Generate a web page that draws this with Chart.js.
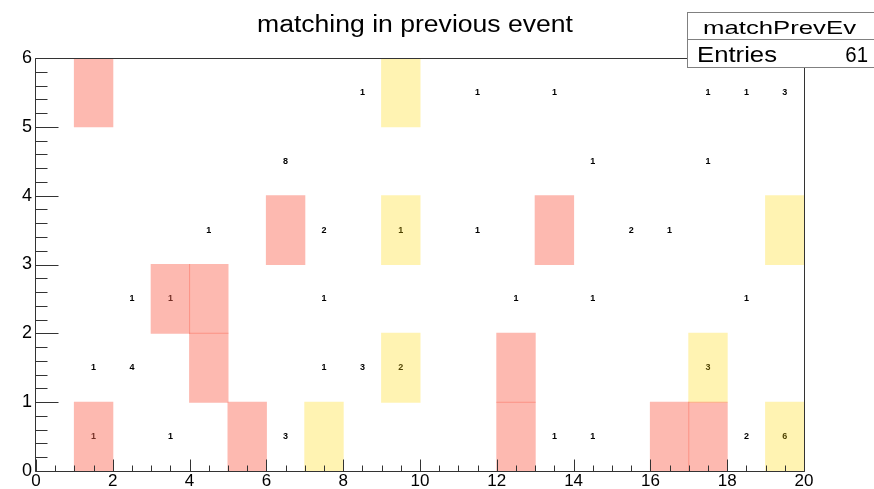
<!DOCTYPE html>
<html>
<head>
<meta charset="utf-8">
<script src="https://cdn.jsdelivr.net/npm/chart.js@4.4.1/dist/chart.umd.min.js"></script>
<style>
  html, body { margin: 0; padding: 0; background: #fff; overflow: hidden; }
  #wrap { position: relative; width: 874px; height: 489px; }
</style>
</head>
<body>
<div id="wrap"><canvas id="c" width="874" height="489"></canvas></div>
<script>
// 2D histogram "matchPrevEv": 20 x bins (0..20), 6 y bins (0..6)
const histName = 'matchPrevEv';
const histTitle = 'matching in previous event';

const xTicks = [0, 2, 4, 6, 8, 10, 12, 14, 16, 18, 20];
const yTicks = [0, 1, 2, 3, 4, 5, 6];

// entries per cell, one array per y bin, index = x bin
const countsY0 = [0, 1, 0, 1, 0, 0, 3, 0, 0, 0, 0, 0, 0, 1, 1, 0, 0, 0, 2, 6];
const countsY1 = [0, 1, 4, 0, 0, 0, 0, 1, 3, 2, 0, 0, 0, 0, 0, 0, 0, 3, 0, 0];
const countsY2 = [0, 0, 1, 1, 0, 0, 0, 1, 0, 0, 0, 0, 1, 0, 1, 0, 0, 0, 1, 0];
const countsY3 = [0, 0, 0, 0, 1, 0, 0, 2, 0, 1, 0, 1, 0, 0, 0, 2, 1, 0, 0, 0];
const countsY4 = [0, 0, 0, 0, 0, 0, 8, 0, 0, 0, 0, 0, 0, 0, 1, 0, 0, 1, 0, 0];
const countsY5 = [0, 0, 0, 0, 0, 0, 0, 0, 1, 0, 0, 1, 0, 1, 0, 0, 0, 1, 1, 3];

// highlighted cells (lower bin edges)
const redCellX = [1, 1, 3, 4, 4, 5, 6, 12, 12, 13, 16, 17];
const redCellY = [5, 0, 2, 2, 1, 0, 3, 0, 1, 3, 0, 0];
const yellowCellX = [7, 9, 9, 9, 17, 19, 19];
const yellowCellY = [0, 5, 3, 1, 1, 3, 0];

const countRows = [countsY0, countsY1, countsY2, countsY3, countsY4, countsY5];
const entries = countRows.reduce((s, row) => s + row.reduce((a, b) => a + b, 0), 0);

const cellBars = (xs, ys) => xs.map((x, i) => ({ x: x + 0.5, y: [ys[i], ys[i] + 1] }));

const FONT = "'Liberation Sans', Arial, Helvetica, sans-serif";

function stretchText(ctx, text, x, y, size, width, align) {
  ctx.save();
  ctx.font = size + 'px ' + FONT;
  const w = ctx.measureText(text).width;
  ctx.translate(x, y);
  ctx.scale(width / w, 1);
  ctx.textAlign = align;
  ctx.textBaseline = 'alphabetic';
  ctx.fillStyle = '#000';
  ctx.fillText(text, 0, 0);
  ctx.restore();
}

// bin contents written at cell centres, underneath the coloured boxes
const cellText = {
  id: 'cellText',
  beforeDatasetsDraw(chart) {
    const { ctx, scales: { x, y } } = chart;
    ctx.save();
    ctx.font = 'bold 9px ' + FONT;
    ctx.fillStyle = '#000';
    ctx.textAlign = 'center';
    ctx.textBaseline = 'middle';
    countRows.forEach((row, iy) => {
      row.forEach((n, ix) => {
        if (n > 0) ctx.fillText(String(n), x.getPixelForValue(ix + 0.5), y.getPixelForValue(iy + 0.5));
      });
    });
    ctx.restore();
  }
};

// frame and inward tick marks
const frameTicks = {
  id: 'frameTicks',
  afterDatasetsDraw(chart) {
    const { ctx, chartArea: a, scales: { x, y } } = chart;
    ctx.save();
    ctx.strokeStyle = '#333';
    ctx.lineWidth = 1;
    const L = Math.round(a.left) - 0.5, R = Math.round(a.right) + 0.5;
    const T = Math.round(a.top) + 0.5, B = Math.round(a.bottom) + 0.5;
    ctx.beginPath();
    ctx.moveTo(L, T); ctx.lineTo(R, T); ctx.lineTo(R, B); ctx.lineTo(L, B); ctx.closePath();
    ctx.stroke();
    ctx.beginPath();
    for (let v = 0; v <= 20 + 1e-9; v += 0.5) {
      const px = Math.round(x.getPixelForValue(v)) + 0.5;
      const len = Math.abs(v % 2) < 1e-9 ? 12 : 6;
      ctx.moveTo(px, B); ctx.lineTo(px, B - len);
    }
    for (let k = 0; k <= 30; k++) {
      const v = k * 0.2;
      const py = Math.round(y.getPixelForValue(v)) + 0.5;
      const len = k % 5 === 0 ? 23 : 12;
      ctx.moveTo(L, py); ctx.lineTo(L + len, py);
    }
    ctx.stroke();
    ctx.restore();
  }
};

// title and statistics box
const decorations = {
  id: 'decorations',
  afterDraw(chart) {
    const { ctx } = chart;
    stretchText(ctx, histTitle, 415, 31.5, 23, 316, 'center');
    ctx.save();
    ctx.fillStyle = '#fff';
    ctx.strokeStyle = '#808080';
    ctx.lineWidth = 1;
    ctx.fillRect(687, 12, 200, 55);
    ctx.strokeRect(687.5, 12.5, 200, 55);
    ctx.beginPath();
    ctx.moveTo(687.5, 39.5); ctx.lineTo(880, 39.5);
    ctx.stroke();
    ctx.restore();
    stretchText(ctx, histName, 703, 34.3, 19, 153, 'left');
    stretchText(ctx, 'Entries', 697, 62.3, 22, 80, 'left');
    stretchText(ctx, String(entries), 868, 62.3, 22, 22.7, 'right');
  }
};

const barCommon = {
  grouped: false,
  barPercentage: 1,
  categoryPercentage: 1,
  borderWidth: 0,
  inflateAmount: 0.5
};

new Chart(document.getElementById('c').getContext('2d'), {
  type: 'bar',
  data: {
    datasets: [
      Object.assign({ label: 'red', data: cellBars(redCellX, redCellY), backgroundColor: 'rgba(250,100,80,0.45)' }, barCommon),
      Object.assign({ label: 'yellow', data: cellBars(yellowCellX, yellowCellY), backgroundColor: 'rgba(255,215,0,0.3)' }, barCommon)
    ]
  },
  options: {
    responsive: false,
    animation: false,
    devicePixelRatio: 1,
    layout: { padding: { top: 58, right: 70, left: 0, bottom: 0 } },
    plugins: { legend: { display: false }, title: { display: false }, tooltip: { enabled: false } },
    scales: {
      x: {
        type: 'linear', min: 0, max: 20, offset: false,
        afterBuildTicks: s => { s.ticks = xTicks.map(v => ({ value: v })); },
        afterFit: s => { s.height = 18; },
        grid: { display: false, drawTicks: false, offset: false },
        border: { display: false },
        ticks: { padding: 0, color: '#000', autoSkip: false, maxRotation: 0, font: { family: FONT, size: 17 } }
      },
      y: {
        type: 'linear', min: 0, max: 6,
        afterBuildTicks: s => { s.ticks = yTicks.map(v => ({ value: v })); },
        afterFit: s => { s.width = 36; },
        grid: { display: false, drawTicks: false },
        border: { display: false },
        ticks: { padding: 4, color: '#000', autoSkip: false, font: { family: FONT, size: 18 } }
      }
    }
  },
  plugins: [cellText, frameTicks, decorations]
});
</script>
</body>
</html>
